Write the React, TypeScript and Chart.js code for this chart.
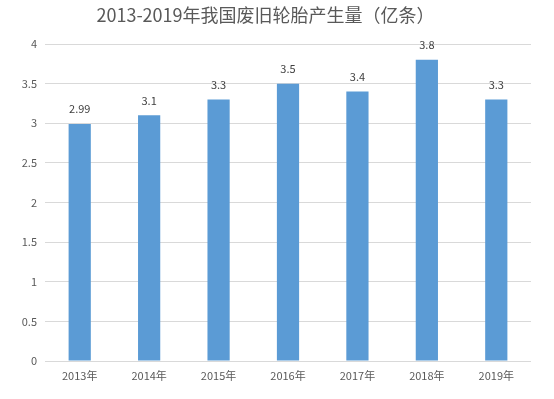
import React, { useEffect, useRef } from "react";
import { Chart, registerables } from "chart.js";

Chart.register(...registerables);

const TITLE = "2013-2019年我国废旧轮胎产生量（亿条）";
const categories = ["2013年", "2014年", "2015年", "2016年", "2017年", "2018年", "2019年"];
const values = [2.99, 3.1, 3.3, 3.5, 3.4, 3.8, 3.3];
const valueLabels = ["2.99", "3.1", "3.3", "3.5", "3.4", "3.8", "3.3"];

const FONT = "'Noto Sans CJK SC', 'Noto Sans', sans-serif";

const labelPlugin = {
  id: "valueLabels",
  afterDatasetsDraw(chart: any) {
    const ctx = chart.ctx;
    const meta = chart.getDatasetMeta(0);
    ctx.save();
    ctx.font = `11px ${FONT}`;
    ctx.fillStyle = "#404040";
    ctx.textAlign = "center";
    ctx.textBaseline = "middle";
    meta.data.forEach((el: any, i: number) => {
      ctx.fillText(valueLabels[i], el.x, el.y - 15);
    });
    ctx.restore();
  },
};

export default function App() {
  const ref = useRef<HTMLCanvasElement | null>(null);
  useEffect(() => {
    if (!ref.current) return;
    const chart = new Chart(ref.current, {
      type: "bar",
      data: {
        labels: categories,
        datasets: [
          {
            data: values,
            backgroundColor: "#5B9BD5",
            barPercentage: 0.32,
            categoryPercentage: 1,
          },
        ],
      },
      options: {
        animation: false,
        responsive: false,
        maintainAspectRatio: false,
        layout: { padding: { left: 0, right: 23, top: 0, bottom: 0 } },
        plugins: {
          legend: { display: false },
          tooltip: { enabled: false },
          title: {
            display: true,
            text: TITLE,
            color: "#595959",
            font: { family: FONT, size: 18, weight: "normal" },
            padding: { top: 4, bottom: 18.4 },
          },
        },
        scales: {
          x: {
            grid: { display: false, drawTicks: false },
            border: { display: false },
            ticks: { color: "#595959", font: { family: FONT, size: 11 }, padding: 8 },
            afterFit(scale: any) {
              scale.height = 38;
            },
          },
          y: {
            min: 0,
            max: 4,
            grid: { color: "#d9d9d9", drawTicks: false },
            border: { display: false },
            ticks: {
              stepSize: 0.5,
              color: "#595959",
              font: { family: FONT, size: 11 },
              padding: 8,
              callback: (v: any) => String(Number(v)),
            },
            afterFit(scale: any) {
              scale.width = 45;
            },
          },
        },
      },
      plugins: [labelPlugin],
    });
    return () => chart.destroy();
  }, []);
  return (
    <div style={{ position: "fixed", left: 0, top: 0, width: 554, height: 399, background: "#fff" }}>
      <canvas ref={ref} width={554} height={399} style={{ width: 554, height: 399 }} />
    </div>
  );
}
